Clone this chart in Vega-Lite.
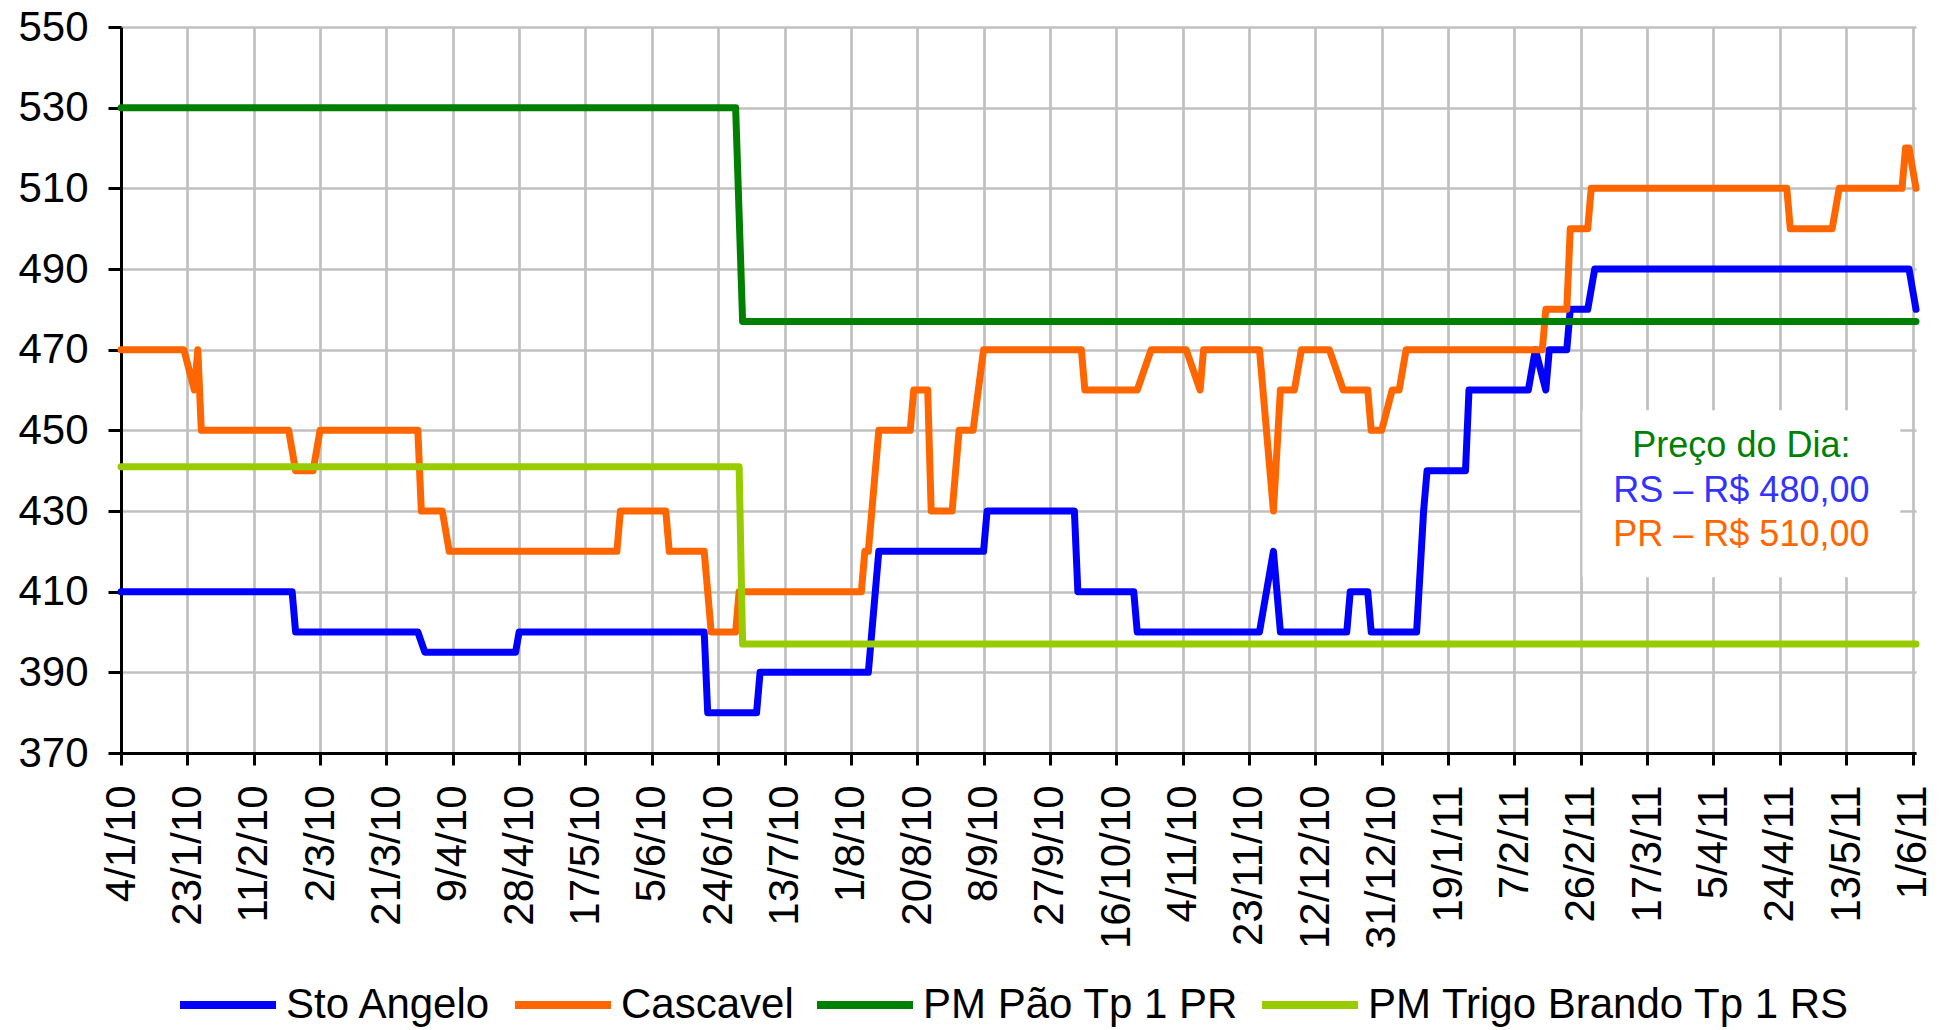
{
  "$schema": "https://vega.github.io/schema/vega-lite/v6.json",
  "width": 1795,
  "height": 726,
  "autosize": {"type": "none"},
  "padding": {"left": 121, "top": 27, "right": 28, "bottom": 277},
  "background": "white",
  "config": {"view": {"stroke": null}, "font": "Liberation Sans"},
  "datasets": {
    "prices": [
      {"date": "2010-01-04", "series": "Sto Angelo", "price": 410},
      {"date": "2010-02-22", "series": "Sto Angelo", "price": 410},
      {"date": "2010-02-23", "series": "Sto Angelo", "price": 400},
      {"date": "2010-03-30", "series": "Sto Angelo", "price": 400},
      {"date": "2010-04-01", "series": "Sto Angelo", "price": 395},
      {"date": "2010-04-27", "series": "Sto Angelo", "price": 395},
      {"date": "2010-04-28", "series": "Sto Angelo", "price": 400},
      {"date": "2010-06-20", "series": "Sto Angelo", "price": 400},
      {"date": "2010-06-21", "series": "Sto Angelo", "price": 380},
      {"date": "2010-07-05", "series": "Sto Angelo", "price": 380},
      {"date": "2010-07-06", "series": "Sto Angelo", "price": 390},
      {"date": "2010-08-06", "series": "Sto Angelo", "price": 390},
      {"date": "2010-08-09", "series": "Sto Angelo", "price": 420},
      {"date": "2010-09-08", "series": "Sto Angelo", "price": 420},
      {"date": "2010-09-09", "series": "Sto Angelo", "price": 430},
      {"date": "2010-10-04", "series": "Sto Angelo", "price": 430},
      {"date": "2010-10-05", "series": "Sto Angelo", "price": 410},
      {"date": "2010-10-21", "series": "Sto Angelo", "price": 410},
      {"date": "2010-10-22", "series": "Sto Angelo", "price": 400},
      {"date": "2010-11-26", "series": "Sto Angelo", "price": 400},
      {"date": "2010-11-30", "series": "Sto Angelo", "price": 420},
      {"date": "2010-12-02", "series": "Sto Angelo", "price": 400},
      {"date": "2010-12-21", "series": "Sto Angelo", "price": 400},
      {"date": "2010-12-22", "series": "Sto Angelo", "price": 410},
      {"date": "2010-12-27", "series": "Sto Angelo", "price": 410},
      {"date": "2010-12-28", "series": "Sto Angelo", "price": 400},
      {"date": "2011-01-10", "series": "Sto Angelo", "price": 400},
      {"date": "2011-01-12", "series": "Sto Angelo", "price": 430},
      {"date": "2011-01-13", "series": "Sto Angelo", "price": 440},
      {"date": "2011-01-24", "series": "Sto Angelo", "price": 440},
      {"date": "2011-01-25", "series": "Sto Angelo", "price": 460},
      {"date": "2011-02-11", "series": "Sto Angelo", "price": 460},
      {"date": "2011-02-13", "series": "Sto Angelo", "price": 470},
      {"date": "2011-02-16", "series": "Sto Angelo", "price": 460},
      {"date": "2011-02-17", "series": "Sto Angelo", "price": 470},
      {"date": "2011-02-22", "series": "Sto Angelo", "price": 470},
      {"date": "2011-02-23", "series": "Sto Angelo", "price": 480},
      {"date": "2011-02-28", "series": "Sto Angelo", "price": 480},
      {"date": "2011-03-02", "series": "Sto Angelo", "price": 490},
      {"date": "2011-05-31", "series": "Sto Angelo", "price": 490},
      {"date": "2011-06-02", "series": "Sto Angelo", "price": 480},

      {"date": "2010-01-04", "series": "Cascavel", "price": 470},
      {"date": "2010-01-22", "series": "Cascavel", "price": 470},
      {"date": "2010-01-25", "series": "Cascavel", "price": 460},
      {"date": "2010-01-26", "series": "Cascavel", "price": 470},
      {"date": "2010-01-27", "series": "Cascavel", "price": 450},
      {"date": "2010-02-21", "series": "Cascavel", "price": 450},
      {"date": "2010-02-23", "series": "Cascavel", "price": 440},
      {"date": "2010-02-28", "series": "Cascavel", "price": 440},
      {"date": "2010-03-02", "series": "Cascavel", "price": 450},
      {"date": "2010-03-30", "series": "Cascavel", "price": 450},
      {"date": "2010-03-31", "series": "Cascavel", "price": 430},
      {"date": "2010-04-06", "series": "Cascavel", "price": 430},
      {"date": "2010-04-08", "series": "Cascavel", "price": 420},
      {"date": "2010-05-26", "series": "Cascavel", "price": 420},
      {"date": "2010-05-27", "series": "Cascavel", "price": 430},
      {"date": "2010-06-09", "series": "Cascavel", "price": 430},
      {"date": "2010-06-10", "series": "Cascavel", "price": 420},
      {"date": "2010-06-20", "series": "Cascavel", "price": 420},
      {"date": "2010-06-22", "series": "Cascavel", "price": 400},
      {"date": "2010-06-29", "series": "Cascavel", "price": 400},
      {"date": "2010-06-30", "series": "Cascavel", "price": 410},
      {"date": "2010-08-04", "series": "Cascavel", "price": 410},
      {"date": "2010-08-05", "series": "Cascavel", "price": 420},
      {"date": "2010-08-06", "series": "Cascavel", "price": 420},
      {"date": "2010-08-09", "series": "Cascavel", "price": 450},
      {"date": "2010-08-18", "series": "Cascavel", "price": 450},
      {"date": "2010-08-19", "series": "Cascavel", "price": 460},
      {"date": "2010-08-23", "series": "Cascavel", "price": 460},
      {"date": "2010-08-24", "series": "Cascavel", "price": 430},
      {"date": "2010-08-30", "series": "Cascavel", "price": 430},
      {"date": "2010-09-01", "series": "Cascavel", "price": 450},
      {"date": "2010-09-05", "series": "Cascavel", "price": 450},
      {"date": "2010-09-08", "series": "Cascavel", "price": 470},
      {"date": "2010-10-06", "series": "Cascavel", "price": 470},
      {"date": "2010-10-07", "series": "Cascavel", "price": 460},
      {"date": "2010-10-22", "series": "Cascavel", "price": 460},
      {"date": "2010-10-26", "series": "Cascavel", "price": 470},
      {"date": "2010-11-05", "series": "Cascavel", "price": 470},
      {"date": "2010-11-09", "series": "Cascavel", "price": 460},
      {"date": "2010-11-10", "series": "Cascavel", "price": 470},
      {"date": "2010-11-26", "series": "Cascavel", "price": 470},
      {"date": "2010-11-30", "series": "Cascavel", "price": 430},
      {"date": "2010-12-02", "series": "Cascavel", "price": 460},
      {"date": "2010-12-06", "series": "Cascavel", "price": 460},
      {"date": "2010-12-08", "series": "Cascavel", "price": 470},
      {"date": "2010-12-16", "series": "Cascavel", "price": 470},
      {"date": "2010-12-20", "series": "Cascavel", "price": 460},
      {"date": "2010-12-27", "series": "Cascavel", "price": 460},
      {"date": "2010-12-28", "series": "Cascavel", "price": 450},
      {"date": "2010-12-31", "series": "Cascavel", "price": 450},
      {"date": "2011-01-03", "series": "Cascavel", "price": 460},
      {"date": "2011-01-05", "series": "Cascavel", "price": 460},
      {"date": "2011-01-07", "series": "Cascavel", "price": 470},
      {"date": "2011-02-15", "series": "Cascavel", "price": 470},
      {"date": "2011-02-16", "series": "Cascavel", "price": 480},
      {"date": "2011-02-22", "series": "Cascavel", "price": 480},
      {"date": "2011-02-23", "series": "Cascavel", "price": 500},
      {"date": "2011-02-28", "series": "Cascavel", "price": 500},
      {"date": "2011-03-01", "series": "Cascavel", "price": 510},
      {"date": "2011-04-26", "series": "Cascavel", "price": 510},
      {"date": "2011-04-27", "series": "Cascavel", "price": 500},
      {"date": "2011-05-09", "series": "Cascavel", "price": 500},
      {"date": "2011-05-11", "series": "Cascavel", "price": 510},
      {"date": "2011-05-29", "series": "Cascavel", "price": 510},
      {"date": "2011-05-30", "series": "Cascavel", "price": 520},
      {"date": "2011-05-31", "series": "Cascavel", "price": 520},
      {"date": "2011-06-02", "series": "Cascavel", "price": 510},

      {"date": "2010-01-04", "series": "PM Pão Tp 1 PR", "price": 530},
      {"date": "2010-06-29", "series": "PM Pão Tp 1 PR", "price": 530},
      {"date": "2010-07-01", "series": "PM Pão Tp 1 PR", "price": 477},
      {"date": "2011-06-02", "series": "PM Pão Tp 1 PR", "price": 477},

      {"date": "2010-01-04", "series": "PM Trigo Brando Tp 1 RS", "price": 441},
      {"date": "2010-06-30", "series": "PM Trigo Brando Tp 1 RS", "price": 441},
      {"date": "2010-07-01", "series": "PM Trigo Brando Tp 1 RS", "price": 397},
      {"date": "2011-06-02", "series": "PM Trigo Brando Tp 1 RS", "price": 397}
    ]
  },
  "layer": [
    {
      "data": {"values": [{}]},
      "mark": {"type": "rect", "color": "white"},
      "encoding": {
        "x": {"datum": 1298721600000, "type": "temporal", "scale": {"type": "utc", "domain": [1262563200000, 1306972800000]}, "axis": {"title": null}},
        "x2": {"datum": 1306584000000},
        "y": {"datum": 455, "type": "quantitative", "scale": {"domain": [370, 550], "nice": false, "zero": false}, "axis": {"title": null}},
        "y2": {"datum": 413.6}
      }
    },
    {
      "data": {"name": "prices"},
      "mark": {"type": "line", "strokeWidth": 7, "strokeCap": "round", "strokeJoin": "round"},
      "encoding": {
        "x": {
          "field": "date", "type": "temporal",
          "scale": {"type": "utc", "domain": [1262563200000, 1306972800000]},
          "axis": {
            "title": null,
            "values": [1262563200000, 1264204800000, 1265846400000, 1267488000000, 1269129600000, 1270771200000, 1272412800000, 1274054400000, 1275696000000, 1277337600000, 1278979200000, 1280620800000, 1282262400000, 1283904000000, 1285545600000, 1287187200000, 1288828800000, 1290470400000, 1292112000000, 1293753600000, 1295395200000, 1297036800000, 1298678400000, 1300320000000, 1301961600000, 1303603200000, 1305244800000, 1306886400000],
            "format": "%-d/%-m/%y",
            "labelAngle": 270,
            "labelFont": "Liberation Sans",
            "labelFontSize": 42,
            "labelColor": "black",
            "labelPadding": 20,
            "labelOverlap": false,
            "labelFlush": false,
            "labelBound": false,
            "tickSize": 12,
            "tickColor": "black",
            "tickWidth": 3,
            "domainColor": "black",
            "domainWidth": 3,
            "grid": true,
            "gridColor": "#C0C0C0",
            "gridWidth": 2.7
          }
        },
        "y": {
          "field": "price", "type": "quantitative",
          "scale": {"domain": [370, 550], "nice": false, "zero": false},
          "axis": {
            "title": null,
            "values": [370, 390, 410, 430, 450, 470, 490, 510, 530, 550],
            "labelFont": "Liberation Sans",
            "labelFontSize": 42,
            "labelColor": "black",
            "labelPadding": 20,
            "labelFlush": false,
            "tickSize": 13,
            "tickColor": "black",
            "tickWidth": 3,
            "domainColor": "black",
            "domainWidth": 3,
            "grid": true,
            "gridColor": "#C0C0C0",
            "gridWidth": 2.7
          }
        },
        "color": {
          "field": "series", "type": "nominal",
          "scale": {
            "domain": ["Sto Angelo", "Cascavel", "PM Pão Tp 1 PR", "PM Trigo Brando Tp 1 RS"],
            "range": ["#0000FF", "#FF6600", "#008000", "#99CC00"]
          },
          "legend": {
            "orient": "none",
            "legendX": 55,
            "legendY": 926,
            "direction": "horizontal",
            "title": null,
            "symbolType": "stroke",
            "symbolStrokeWidth": 8,
            "symbolSize": 9216,
            "labelFont": "Liberation Sans",
            "labelFontSize": 42,
            "labelColor": "black",
            "labelOffset": 6,
            "labelLimit": 0,
            "columnPadding": 7,
            "padding": 0
          }
        }
      }
    },
    {
      "data": {"values": [{}]},
      "mark": {"type": "text", "text": "Preço do Dia:", "color": "#008000", "font": "Liberation Sans", "fontSize": 36, "align": "center", "baseline": "alphabetic"},
      "encoding": {
        "x": {"datum": 1302652800000, "type": "temporal", "scale": {"type": "utc", "domain": [1262563200000, 1306972800000]}, "axis": {"title": null}},
        "y": {"datum": 443.4, "type": "quantitative", "scale": {"domain": [370, 550], "nice": false, "zero": false}, "axis": {"title": null}}
      }
    },
    {
      "data": {"values": [{}]},
      "mark": {"type": "text", "text": "RS – R$ 480,00", "color": "#3333FF", "font": "Liberation Sans", "fontSize": 36, "align": "center", "baseline": "alphabetic"},
      "encoding": {
        "x": {"datum": 1302652800000, "type": "temporal", "scale": {"type": "utc", "domain": [1262563200000, 1306972800000]}, "axis": {"title": null}},
        "y": {"datum": 432.2, "type": "quantitative", "scale": {"domain": [370, 550], "nice": false, "zero": false}, "axis": {"title": null}}
      }
    },
    {
      "data": {"values": [{}]},
      "mark": {"type": "text", "text": "PR – R$ 510,00", "color": "#FF6600", "font": "Liberation Sans", "fontSize": 36, "align": "center", "baseline": "alphabetic"},
      "encoding": {
        "x": {"datum": 1302652800000, "type": "temporal", "scale": {"type": "utc", "domain": [1262563200000, 1306972800000]}, "axis": {"title": null}},
        "y": {"datum": 421.3, "type": "quantitative", "scale": {"domain": [370, 550], "nice": false, "zero": false}, "axis": {"title": null}}
      }
    }
  ]
}
